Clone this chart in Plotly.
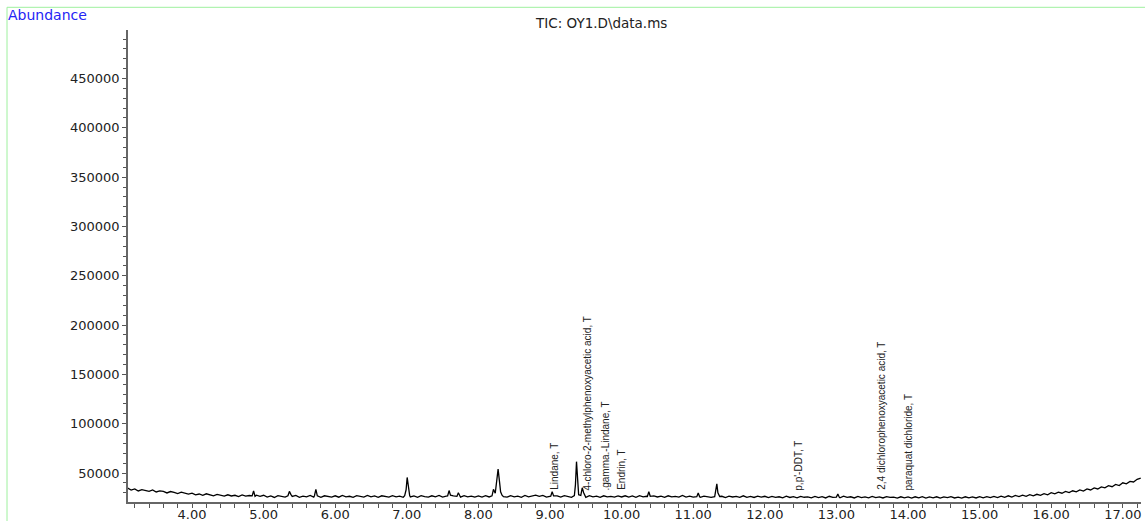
import plotly.graph_objects as go

# ---------------- data ----------------
# retention-time grid (min) for the baseline trace: 3.10 .. 17.25 step 0.05
T_START = 3.10
T_STEP = 0.05

# baseline abundance, one row per minute
BASE_3 = [34800, 32700, 33900, 31800, 33100, 32600, 31400, 32900, 30800, 31900,
          31300, 29800, 31200, 30400, 29200, 30600, 29700, 28600]
BASE_4 = [29600, 27900, 28700, 27300, 28900, 28100, 26900, 28300, 27600, 26500,
          27900, 26700, 27400, 26100, 27800, 26600, 27200, 25900, 27500, 26400]
BASE_5 = [27400, 25600, 26800, 25200, 27100, 26300, 25500, 26900, 25800, 27300,
          25400, 26600, 25900, 27200, 25500, 26700, 25300, 26900, 26100, 25600]
BASE_6 = [26900, 25500, 27200, 25900, 26400, 25300, 27000, 26200, 25600, 27300,
          25800, 26700, 25400, 26900, 26100, 25500, 27100, 25800, 26600, 25400]
BASE_7 = [27300, 25700, 26800, 25400, 27000, 26100, 25500, 26900, 25900, 27200,
          25600, 26500, 25300, 26800, 26200, 25500, 27100, 25800, 26600, 25500]
BASE_8 = [26800, 25600, 27100, 25700, 26500, 25300, 26900, 26000, 25500, 27000,
          25800, 26600, 25400, 27200, 25900, 26700, 27500, 26400, 27300, 25600]
BASE_9 = [27000, 25700, 26800, 25500, 27100, 26200, 25400, 26900, 25800, 26600,
          25300, 27000, 25900, 26500, 25400, 26900, 25800, 26300, 25500, 26800]
BASE_10 = [25700, 26900, 25600, 26700, 25400, 27000, 25900, 26400, 25300, 26800,
           25700, 26500, 25400, 26900, 25800, 26300, 25500, 27200, 25600, 26600]
BASE_11 = [25500, 26800, 25300, 26600, 25900, 25200, 26700, 25600, 26400, 25100,
           26500, 25700, 26200, 25300, 26900, 25400, 26300, 25200, 26600, 25500]
BASE_12 = [26400, 25000, 26200, 25300, 25900, 24800, 26500, 25200, 26100, 24900,
           26300, 25400, 25800, 24800, 26200, 25100, 26000, 24700, 26400, 25200]
BASE_13 = [26100, 24900, 26600, 25300, 25900, 24700, 26200, 25000, 25800, 24800,
           26300, 25100, 25700, 24700, 26000, 25200, 25600, 24600, 25900, 24900]
BASE_14 = [25800, 24500, 25900, 24800, 26000, 24600, 25700, 24900, 25900, 24500,
           25800, 25000, 26100, 24700, 25600, 24600, 25900, 24900, 25700, 24700]
BASE_15 = [26000, 24800, 26100, 25000, 26300, 25100, 26600, 25400, 26900, 25600,
           27200, 26000, 27500, 26400, 28100, 26800, 28400, 27300, 29000, 27900]
BASE_16 = [30100, 28800, 30600, 29500, 31300, 30100, 32000, 30900, 32800, 31700,
           33900, 32800, 34900, 33800, 35900, 35000, 37100, 36100, 38400, 37200]
BASE_17 = [40100, 39000, 41500, 40900, 43600, 44900]

# peaks: explicit (time, abundance) points
PEAK_486 = [(4.84, 26800), (4.86, 31800), (4.88, 26400)]
PEAK_536 = [(5.34, 26900), (5.36, 31400), (5.38, 28400), (5.40, 26300)]
PEAK_573 = [(5.71, 27000), (5.73, 33500), (5.75, 26900)]
PEAK_700 = [(6.97, 27000), (6.99, 33000), (7.005, 45500), (7.02, 36000), (7.04, 27200)]
PEAK_759 = [(7.57, 26800), (7.59, 32200), (7.61, 27500)]
PEAK_772 = [(7.70, 26300), (7.72, 30000), (7.74, 26400)]
PEAK_828 = [(8.19, 26800), (8.21, 33500), (8.235, 29500), (8.255, 42000),
            (8.275, 54000), (8.295, 41000), (8.31, 31000), (8.33, 27500)]
PEAK_903 = [(9.01, 26600), (9.03, 31000), (9.05, 26800)]
PEAK_937 = [(9.34, 27000), (9.355, 38000), (9.37, 61500), (9.385, 40000),
            (9.40, 28000), (9.43, 27200), (9.45, 35000), (9.47, 30000), (9.49, 26800)]
PEAK_1038 = [(10.36, 26200), (10.38, 31000), (10.40, 26400)]
PEAK_1107 = [(11.05, 26000), (11.07, 29800), (11.09, 25900)]
PEAK_1133 = [(11.30, 26000), (11.315, 31000), (11.33, 39000), (11.345, 30000), (11.37, 26200)]
PEAK_1302 = [(13.00, 25600), (13.02, 28800), (13.04, 25500)]

# peak annotations
LABEL_TEXT = ["Lindane, T", "4-chloro-2-methylphenoxyacetic acid, T", ".gamma.-Lindane, T",
              "Endrin, T", "p,p'-DDT, T", "2,4 dichlorophenoxyacetic acid, T",
              "paraquat dichloride, T"]
LABEL_RT = [9.07, 9.52, 9.78, 10.00, 12.47, 13.63, 14.01]
LABEL_Y = [30500, 30500, 30500, 30500, 30500, 30500, 30500]

X_TICKS = [4, 5, 6, 7, 8, 9, 10, 11, 12, 13, 14, 15, 16, 17]
Y_TICKS = [50000, 100000, 150000, 200000, 250000, 300000, 350000, 400000, 450000]

# ---------------- assemble trace ----------------
base = (BASE_3 + BASE_4 + BASE_5 + BASE_6 + BASE_7 + BASE_8 + BASE_9 + BASE_10 +
        BASE_11 + BASE_12 + BASE_13 + BASE_14 + BASE_15 + BASE_16 + BASE_17)
grid_t = [round(T_START + T_STEP * i, 3) for i in range(len(base))]
peaks = [PEAK_486, PEAK_536, PEAK_573, PEAK_700, PEAK_759, PEAK_772, PEAK_828,
         PEAK_903, PEAK_937, PEAK_1038, PEAK_1107, PEAK_1133, PEAK_1302]

points = []
for t, v in zip(grid_t, base):
    inside = any(p[0][0] <= t <= p[-1][0] for p in peaks)
    if not inside:
        points.append((t, v))
for p in peaks:
    points.extend(p)
points.sort(key=lambda q: q[0])
xs = [q[0] for q in points]
ys = [q[1] for q in points]

# ---------------- figure ----------------
L, R, T, B = 128, 4, 30, 19
W, H = 1145, 521
PW, PH = W - L - R, H - T - B


def px(x):
    return (x - L) / PW


def py(y):
    return (H - B - y) / PH


FONT = "DejaVu Sans, Verdana, sans-serif"
LFONT = "Liberation Sans, Arial, sans-serif"

fig = go.Figure()
fig.add_trace(go.Scatter(x=xs, y=ys, mode="lines",
                         line=dict(color="black", width=1.3),
                         hoverinfo="skip", showlegend=False))

annotations = []
for txt, rt, yv in zip(LABEL_TEXT, LABEL_RT, LABEL_Y):
    annotations.append(dict(x=rt, y=yv, xref="x", yref="y", text=txt,
                            textangle=-90, showarrow=False, xanchor="center",
                            yanchor="bottom", font=dict(family=LFONT, size=10, color="#222")))
annotations.append(dict(x=px(601), y=py(22.5), xref="paper", yref="paper",
                        text="TIC: OY1.D\\data.ms", showarrow=False,
                        xanchor="center", yanchor="middle",
                        font=dict(family=FONT, size=13.5, color="#222")))
annotations.append(dict(x=px(6), y=py(15), xref="paper", yref="paper",
                        text="Abundance", showarrow=False,
                        xanchor="left", yanchor="middle",
                        font=dict(family=FONT, size=14, color="#2424f5")))

fig.update_layout(
    width=W, height=H,
    margin=dict(l=L, r=R, t=T, b=B, pad=0),
    paper_bgcolor="white", plot_bgcolor="white",
    annotations=annotations,
    shapes=[dict(type="rect", xref="paper", yref="paper",
                 x0=px(7), x1=px(1190), y0=py(600), y1=py(7.3),
                 line=dict(color="#9ef09e", width=1), fillcolor="rgba(0,0,0,0)",
                 layer="below")],
    xaxis=dict(range=[3.106, 17.254], tickvals=X_TICKS, tickformat=".2f",
               automargin=False, ticklabelstandoff=-4,
               showgrid=False, zeroline=False, showline=True,
               linecolor="#666", linewidth=1.5,
               ticks="outside", ticklen=4, tickwidth=1, tickcolor="#555",
               minor=dict(dtick=0.2, tick0=0, ticks="outside", ticklen=4,
                          tickcolor="#555", tickwidth=1, showgrid=False),
               tickfont=dict(family=FONT, size=13, color="#222")),
    yaxis=dict(range=[20600, 499200], tickvals=Y_TICKS, tickformat="d",
               automargin=False,
               showgrid=False, zeroline=False, showline=True,
               linecolor="#666", linewidth=1.5,
               ticks="outside", ticklen=4, tickwidth=1, tickcolor="#555",
               minor=dict(dtick=10000, tick0=0, ticks="outside", ticklen=3,
                          tickcolor="#555", tickwidth=1, showgrid=False),
               tickfont=dict(family=FONT, size=13, color="#222")),
)

fig.write_html("out.html")
